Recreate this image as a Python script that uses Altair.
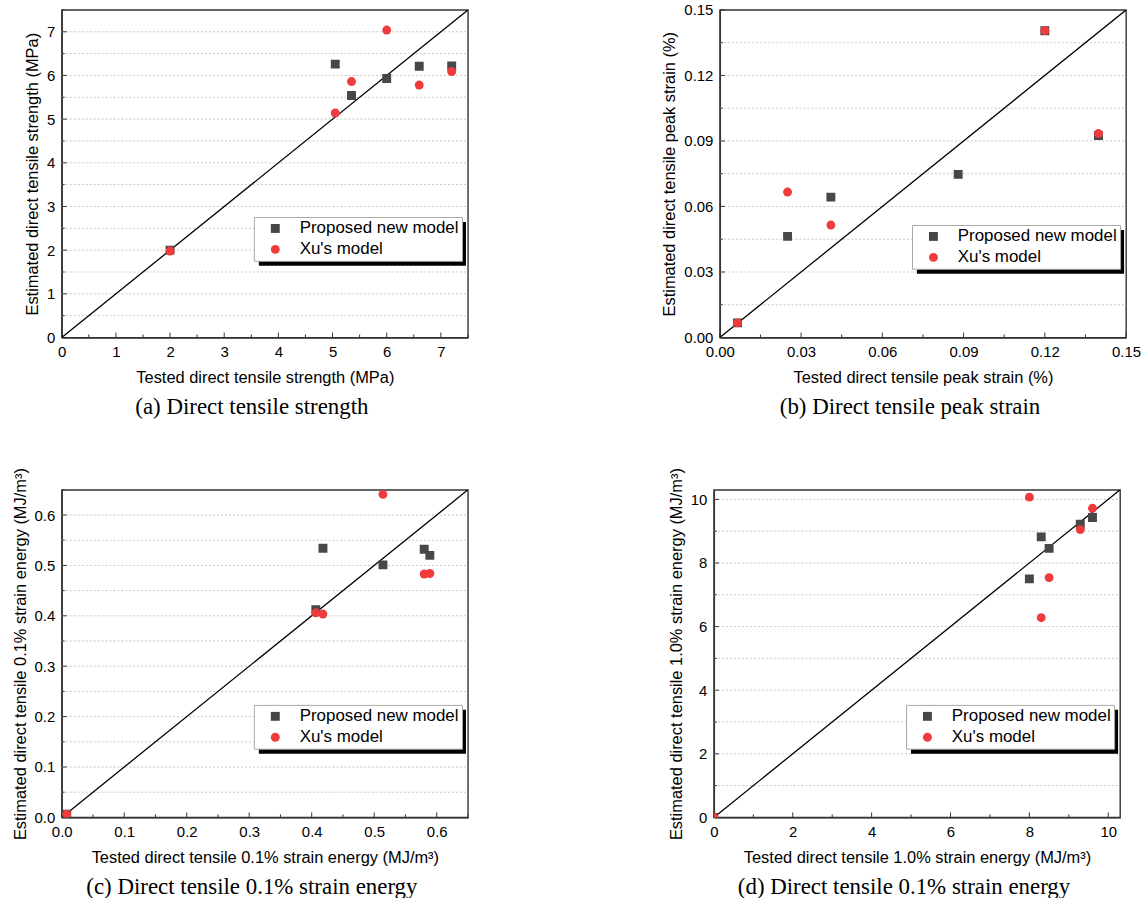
import altair as alt
import pandas as pd

MODELS = ["Proposed new model", "Xu's model"]
COLORS = ["#474747", "#ef3b3b"]
SHAPES = ["square", "circle"]

# (a) Direct tensile strength (MPa)
a_tested = [2.0, 5.05, 5.35, 6.0, 6.6, 7.2]
a_proposed = [2.0, 6.26, 5.54, 5.93, 6.21, 6.22]
a_xu = [1.98, 5.14, 5.86, 7.04, 5.78, 6.09]
a_major = [0, 1, 2, 3, 4, 5, 6, 7]
a_minor = [0.5, 1.5, 2.5, 3.5, 4.5, 5.5, 6.5, 7.5]

# (b) Direct tensile peak strain (%)
b_tested = [0.0065, 0.025, 0.041, 0.088, 0.12, 0.1398]
b_proposed = [0.0067, 0.0463, 0.0643, 0.0747, 0.1405, 0.0925]
b_xu = [0.0067, 0.0666, 0.0515, None, 0.1405, 0.0934]
b_major = [0, 0.03, 0.06, 0.09, 0.12, 0.15]
b_minor = [0.015, 0.045, 0.075, 0.105, 0.135]

# (c) 0.1% strain energy (MJ/m3)
c_tested = [0.008, 0.4066, 0.418, 0.514, 0.580, 0.589]
c_proposed = [0.0065, 0.412, 0.534, 0.501, 0.532, 0.520]
c_xu = [0.0065, 0.406, 0.4035, 0.641, 0.483, 0.484]
c_major = [0, 0.1, 0.2, 0.3, 0.4, 0.5, 0.6]
c_minor = [0.05, 0.15, 0.25, 0.35, 0.45, 0.55, 0.65]

# (d) 1.0% strain energy (MJ/m3)
d_tested = [0.0, 8.0, 8.3, 8.5, 9.29, 9.6]
d_proposed = [0.0, 7.5, 8.82, 8.46, 9.22, 9.43]
d_xu = [0.0, 10.07, 6.28, 7.54, 9.05, 9.72]
d_major = [0, 2, 4, 6, 8, 10]
d_minor = [1, 3, 5, 7, 9]

FONT = "Liberation Sans"
SERIF = "Liberation Serif"
W, H = 408, 329
FRAME = "#333333"


def panel(tested, proposed, xu, vmax, major, minor, fmt, xtitle, ytitle, caption, leg_y):
    rows = []
    for t, p in zip(tested, proposed):
        if p is not None:
            rows.append({"tested": t, "est": p, "model": MODELS[0]})
    for t, q in zip(tested, xu):
        if q is not None:
            rows.append({"tested": t, "est": q, "model": MODELS[1]})
    df = pd.DataFrame(rows)

    grid_vals = [v for v in sorted(major + minor) if 0 < v < vmax]

    def axis(title):
        return alt.Axis(
            title=title,
            values=major,
            format=fmt,
            grid=False,
            ticks=False,
            tickSize=0,
            labelPadding=7,
            labelFlush=False,
        )

    xaxis = axis(xtitle)
    yaxis = axis(ytitle)
    sc = alt.Scale(domain=[0, vmax], nice=False, zero=True)
    leg = alt.Legend(
        title=None,
        orient="none",
        legendX=193,
        legendY=leg_y,
        fillColor="white",
        strokeColor="#a8a8a8",
        padding=3,
        symbolOffset=10,
        labelOffset=16,
        rowPadding=3,
        labelFontSize=17,
        labelFont=FONT,
        labelColor="black",
        symbolSize=80,
        symbolStrokeWidth=0,
    )

    grid = alt.Chart(pd.DataFrame({"g": grid_vals})).mark_rule(
        color="#c8c8c8", strokeWidth=1, strokeDash=[2, 2]
    ).encode(
        y=alt.Y("g:Q", scale=sc, axis=yaxis), x=alt.value(0), x2=alt.value(W)
    )
    diag = alt.Chart(pd.DataFrame({"v": [0, vmax]})).mark_line(
        color="black", strokeWidth=1.3, clip=True
    ).encode(
        x=alt.X("v:Q", scale=sc, axis=xaxis),
        y=alt.Y("v:Q", scale=sc, axis=yaxis),
    )
    tick_layers = []
    for vals, ln in ((major, 5), (minor, 3)):
        tdf = pd.DataFrame({"t": vals})
        tick_layers.append(
            alt.Chart(tdf).mark_rule(color=FRAME, strokeWidth=1).encode(
                x=alt.X("t:Q", scale=sc, axis=xaxis), y=alt.value(H), y2=alt.value(H - ln)
            )
        )
        tick_layers.append(
            alt.Chart(tdf).mark_rule(color=FRAME, strokeWidth=1).encode(
                y=alt.Y("t:Q", scale=sc, axis=yaxis), x=alt.value(0), x2=alt.value(ln)
            )
        )
    shadow = alt.Chart(alt.Data(values=[{"k": 1}])).mark_rect(color="black").encode(
        x=alt.value(198), x2=alt.value(406), y=alt.value(leg_y + 5), y2=alt.value(leg_y + 49)
    )
    pts = alt.Chart(df).mark_point(filled=True, opacity=1, size=80, clip=True).encode(
        x=alt.X("tested:Q", scale=sc, axis=xaxis),
        y=alt.Y("est:Q", scale=sc, axis=yaxis),
        color=alt.Color("model:N", scale=alt.Scale(domain=MODELS, range=COLORS), legend=leg),
        shape=alt.Shape("model:N", scale=alt.Scale(domain=MODELS, range=SHAPES), legend=leg),
    )
    return alt.layer(grid, diag, *tick_layers, shadow, pts).properties(
        width=W,
        height=H,
        title=alt.TitleParams(
            caption,
            orient="bottom",
            font=SERIF,
            fontSize=23,
            fontWeight="normal",
            anchor="middle",
            frame="group",
            dx=-13,
            offset=10,
            color="black",
        ),
    )


pa = panel(a_tested, a_proposed, a_xu, 7.5, a_major, a_minor, "d",
           "Tested direct tensile strength (MPa)",
           "Estimated direct tensile strength (MPa)",
           "(a) Direct tensile strength", 208)
pb = panel(b_tested, b_proposed, b_xu, 0.15, b_major, b_minor, ".2f",
           "Tested direct tensile peak strain (%)",
           "Estimated direct tensile peak strain (%)",
           "(b) Direct tensile peak strain", 216)
pc = panel(c_tested, c_proposed, c_xu, 0.65, c_major, c_minor, ".1f",
           "Tested direct tensile 0.1% strain energy (MJ/m³)",
           "Estimated direct tensile 0.1% strain energy (MJ/m³)",
           "(c) Direct tensile 0.1% strain energy", 216)
pd_ = panel(d_tested, d_proposed, d_xu, 10.3, d_major, d_minor, "d",
            "Tested direct tensile 1.0% strain energy (MJ/m³)",
            "Estimated direct tensile 1.0% strain energy (MJ/m³)",
            "(d) Direct tensile 0.1% strain energy", 216)

row1 = alt.hconcat(pa, pb, spacing=192).resolve_scale(color="independent", shape="independent")
row2 = alt.hconcat(pc, pd_, spacing=198).resolve_scale(color="independent", shape="independent")

chart = alt.vconcat(row1, row2, spacing=46).resolve_scale(
    color="independent", shape="independent"
).properties(
    background="white", padding={"left": 11, "top": 0, "right": 0, "bottom": 1}
).configure_view(
    stroke=FRAME, strokeWidth=1.4
).configure_axis(
    labelFont=FONT,
    labelFontSize=15,
    labelColor="black",
    titleFont=FONT,
    titleFontSize=16.5,
    titleFontWeight="normal",
    titleColor="black",
    domainColor=FRAME,
    domainWidth=1.4,
).configure_axisX(
    titlePadding=10
).configure_axisY(
    titlePadding=6
)

chart.save("out.html", embed_options={"renderer": "svg", "actions": False})
